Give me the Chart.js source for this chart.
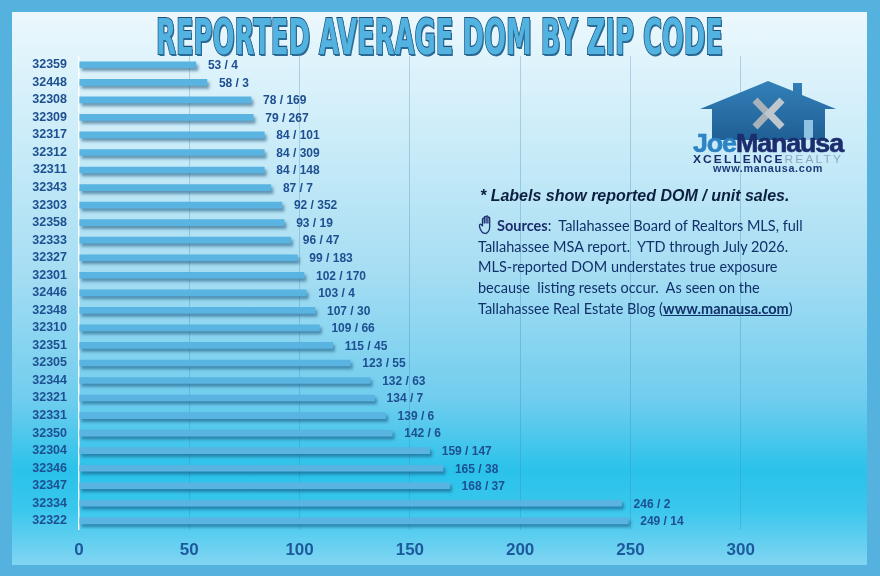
<!DOCTYPE html>
<html>
<head>
<meta charset="utf-8">
<script src="https://cdn.jsdelivr.net/npm/chart.js@4.4.1/dist/chart.umd.min.js"></script>
<style>
  html, body { margin: 0; padding: 0; }
  body {
    width: 880px; height: 576px; overflow: hidden; position: relative;
    background: #55b1de;
    font-family: "Liberation Sans", Arial, sans-serif;
  }
  #panel {
    position: absolute; left: 12px; top: 12px; width: 855px; height: 553px;
    background: linear-gradient(to bottom,
      #ecf8fd 0%, #c8ebf8 25%, #a8def3 46%, #70cdee 70%,
      #2ac2ea 83%, #3ac7ed 90%, #82d5f2 100%);
  }
  #chart { position: absolute; left: 0; top: 0; }
  .fit { position: absolute; white-space: pre; transform-origin: left top; }
  #title {
    left: 156px; top: 13px;
    font-family: "Liberation Sans Narrow", "DejaVu Sans Condensed", sans-serif;
    font-stretch: condensed; font-weight: bold; font-size: 49px; line-height: 1;
    color: #52b2e0;
    -webkit-text-stroke: 2.2px #1d4f7a; paint-order: stroke fill;
    text-shadow: 2px 2px 0 #2a6a95;
  }
  #brand { left: 693px; top: 131px; font-weight: bold; font-size: 25px; line-height: 1; letter-spacing: -1px; }
  #brand .joe { color: #2d83c4; -webkit-text-stroke: 0.6px #2d83c4; }
  #brand .man { color: #1c2d6e; -webkit-text-stroke: 0.6px #1c2d6e; }
  #xcel { left: 693px; top: 154px; font-size: 11.5px; line-height: 1; letter-spacing: 2px; }
  #xcel b { color: #1c2d6e; }
  #xcel span { color: #8ea7c1; }
  #web { left: 713px; top: 164px; font-weight: bold; font-size: 10px; line-height: 1; letter-spacing: 0.6px; color: #1c3d7a; }
  #note1 {
    left: 480px; top: 186px; font-weight: bold; font-style: italic;
    font-size: 16px; line-height: 20px; color: #0d1f40;
  }
  #sources {
    position: absolute; left: 478px; top: 214px; white-space: pre;
    font-family: Lato, "Liberation Sans", sans-serif; font-size: 14.5px; line-height: 20.7px;
    color: #12306a;
  }
  #sources b { color: #1c2d6e; }
  #sources u { font-weight: bold; }
  #hand { vertical-align: -4px; margin-right: 1px; }
  #logo { position: absolute; left: 0; top: 0; }
</style>
</head>
<body>
<div id="panel"></div>
<canvas id="chart" width="880" height="576"></canvas>

<svg id="logo" width="880" height="576" viewBox="0 0 880 576">
  <defs>
    <linearGradient id="houseFill" x1="0" y1="0" x2="0" y2="1">
      <stop offset="0" stop-color="#3380b8"/>
      <stop offset="1" stop-color="#1f5f95"/>
    </linearGradient>
  </defs>
  <path d="M700,109 L768,81 L793,91 L793,83 L802,83 L802,95 L836,109 L825,109 L825,140 L712,140 L712,109 Z" fill="url(#houseFill)"/>
  <rect x="804" y="120" width="9" height="20" fill="#8fc3e3"/>
  <polyline points="755,100 768,113.5 755,127" fill="none" stroke="#a7b1ba" stroke-width="7"/>
  <polyline points="782,100 769,113.5 782,127" fill="none" stroke="#bfc7ce" stroke-width="7"/>
</svg>

<div id="title" class="fit">REPORTED AVERAGE DOM BY ZIP CODE</div>
<div id="brand" class="fit"><span class="joe">Joe</span><span class="man">Manausa</span></div>
<div id="xcel" class="fit"><b>XCELLENCE</b><span>REALTY</span></div>
<div id="web" class="fit">www.manausa.com</div>
<div id="note1" class="fit">* Labels show reported DOM / unit sales.</div>
<div id="sources"><svg id="hand" width="18" height="21" viewBox="0 0 20 22"><path d="M5 20 C2 16 1 13 2 11 C3 10 4 11 5 13 L5 5 C5 3.5 7 3.5 7 5 L7 10 L7 3 C7 1.5 9 1.5 9 3 L9 10 L9 2.5 C9 1 11 1 11 2.5 L11 10 L11 4 C11 2.5 13 2.5 13 4 L13 13 C13 17 11 20 9 21 Z" fill="none" stroke="#1c2d6e" stroke-width="1.4"/></svg><b>Sources</b>:  Tallahassee Board of Realtors MLS, full
Tallahassee MSA report.  YTD through July 2026.
MLS-reported DOM understates true exposure
because  listing resets occur.  As seen on the
Tallahassee Real Estate Blog (<u>www.manausa.com</u>)</div>

<script>
const zipCodes = ["32359", "32448", "32308", "32309", "32317", "32312", "32311", "32343", "32303",
  "32358", "32333", "32327", "32301", "32446", "32348", "32310", "32351", "32305", "32344",
  "32321", "32331", "32350", "32304", "32346", "32347", "32334", "32322"];
const domValues = [53, 58, 78, 79, 84, 84, 84, 87, 92, 93, 96, 99, 102, 103, 107, 109, 115, 123,
  132, 134, 139, 142, 159, 165, 168, 246, 249];
const unitSales = [4, 3, 169, 267, 101, 309, 148, 7, 352, 19, 47, 183, 170, 4, 30, 66, 45, 55,
  63, 7, 6, 6, 147, 38, 37, 2, 14];
const xTickValues = [0, 50, 100, 150, 200, 250, 300];

// stretch the overlay texts to the widths they have in the picture
function fitText(id, w, h) {
  const el = document.getElementById(id);
  const r = el.getBoundingClientRect();
  const sx = w / r.width;
  const sy = h ? h / r.height : 1;
  el.style.transform = "scale(" + sx + "," + sy + ")";
}
fitText("title", 567);
fitText("brand", 150);
fitText("xcel", 150);
fitText("web", 110);

const barShadow = {
  id: "barShadow",
  beforeDatasetsDraw(chart) {
    const ctx = chart.ctx;
    ctx.save();
    ctx.shadowColor = "rgba(20, 80, 120, 0.55)";
    ctx.shadowBlur = 3;
    ctx.shadowOffsetX = 2;
    ctx.shadowOffsetY = 3;
  },
  afterDatasetsDraw(chart) {
    const ctx = chart.ctx;
    ctx.restore();
    const meta = chart.getDatasetMeta(0);
    ctx.save();
    ctx.font = "bold 12px 'Liberation Sans', Arial, sans-serif";
    ctx.fillStyle = "#1d4f91";
    ctx.textBaseline = "middle";
    meta.data.forEach((bar, i) => {
      ctx.fillText(domValues[i] + " / " + unitSales[i], bar.x + 12, bar.y + 1);
    });
    ctx.restore();
  }
};

Chart.defaults.font.family = "'Liberation Sans', Arial, sans-serif";
Chart.defaults.font.weight = "bold";

const config = {
  type: "bar",
  data: {
    labels: zipCodes,
    datasets: [{
      label: "Reported DOM",
      data: domValues,
      backgroundColor: "#59b4e1",
      barThickness: 6,
    }],
  },
  options: {
    indexAxis: "y",
    responsive: false,
    animation: false,
    layout: { padding: { top: 56, right: 29, bottom: 4, left: 0 } },
    plugins: {
      legend: { display: false },
      tooltip: { enabled: false },
    },
    scales: {
      x: {
        min: 0,
        max: 350,
        afterBuildTicks(scale) {
          scale.ticks = xTickValues.map((v) => ({ value: v }));
        },
        grid: {
          drawTicks: false,
          color: (c) => (c.tick && c.tick.value === 0 ? "rgba(255,255,255,0.9)" : "rgba(60,130,180,0.3)"),
          lineWidth: (c) => (c.tick && c.tick.value === 0 ? 1.5 : 1),
        },
        border: { display: false },
        ticks: {
          padding: 11,
          color: "#1d5a9c",
          font: { size: 17, weight: "bold" },
        },
      },
      y: {
        afterFit(scale) {
          scale.width = 79;
        },
        grid: { display: false, drawTicks: false },
        border: { display: false },
        ticks: {
          autoSkip: false,
          padding: 12,
          color: "#1d4f91",
          font: { size: 12.5, weight: "bold" },
        },
      },
    },
  },
  plugins: [barShadow],
};

const domChart = new Chart(document.getElementById("chart"), config);
</script>
</body>
</html>
